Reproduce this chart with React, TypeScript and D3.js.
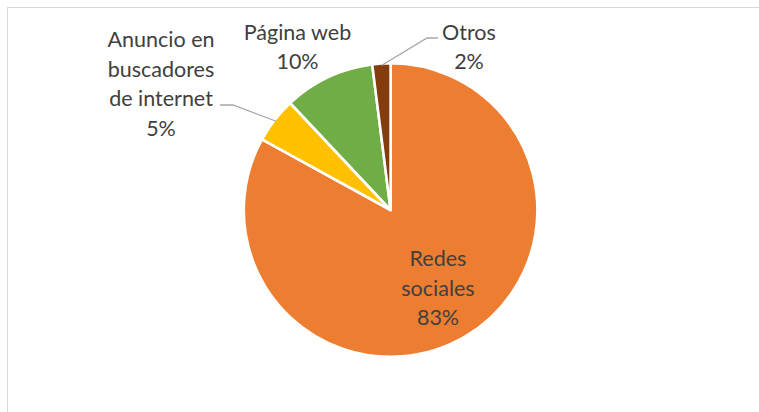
import React from 'react';
import * as d3 from 'd3';

const categories = ['Redes sociales', 'Anuncio en buscadores de internet', 'Página web', 'Otros'];
const values = [83, 5, 10, 2];
const colors = ['#ED7D31', '#FFC000', '#70AD47', '#843C0C'];
// label text lines (as shown on the chart)
const labelLines = [
  ['Redes', 'sociales', '83%'],
  ['Anuncio en', 'buscadores', 'de internet', '5%'],
  ['Página web', '10%'],
  ['Otros', '2%'],
];

const W = 759;
const H = 412;
const cx = 390.6;
const cy = 210;
const R = 146.8;

// label layout: centre x, first baseline, line step, optional leader elbow
const labelLayout = [
  { x: 438, y: 266, step: 29.5, leader: null },
  { x: 161, y: 47, step: 29.5, leader: { x1: 220, x2: 233, y: 105 } },
  { x: 297.5, y: 39.5, step: 29, leader: null },
  { x: 469, y: 40, step: 28.5, leader: { x1: 438, x2: 427, y: 38 } },
];

const App = () => {
  const pie = d3.pie<number>().sort(null).value(d => d);
  const arcs = pie(values);
  const arc = d3.arc<d3.PieArcDatum<number>>().innerRadius(0).outerRadius(R);
  const edge = d3.arc<d3.PieArcDatum<number>>().innerRadius(R - 2).outerRadius(R - 2);

  return (
    <svg width={W} height={H} style={{ position: 'absolute', left: 0, top: 0, display: 'block' }}>
      <rect x={0} y={0} width={W} height={H} fill="#fff" />
      <rect x={7.5} y={7.5} width={W + 10} height={H + 10} fill="none" stroke="#D9D9D9" strokeWidth={1} />
      <g transform={`translate(${cx},${cy})`}>
        {arcs.map((a, i) => (
          <path key={categories[i]} d={arc(a) || ''} fill={colors[i]} stroke="#fff" strokeWidth={2.6} strokeLinejoin="round" />
        ))}
      </g>
      {arcs.map((a, i) => {
        const L = labelLayout[i];
        if (!L.leader) return null;
        const [ex, ey] = edge.centroid(a);
        return (
          <polyline
            key={'ld' + i}
            points={`${L.leader.x1},${L.leader.y} ${L.leader.x2},${L.leader.y} ${cx + ex},${cy + ey}`}
            fill="none"
            stroke="#A6A6A6"
            strokeWidth={1.3}
          />
        );
      })}
      {labelLines.map((lines, i) => {
        const L = labelLayout[i];
        return (
          <text key={'lb' + i} textAnchor="middle" fill="#404040" fontFamily="Lato, 'Open Sans', sans-serif" fontSize={21.5}>
            {lines.map((t, j) => (
              <tspan key={j} x={L.x} y={L.y + j * L.step}>{t}</tspan>
            ))}
          </text>
        );
      })}
    </svg>
  );
};

export default App;
